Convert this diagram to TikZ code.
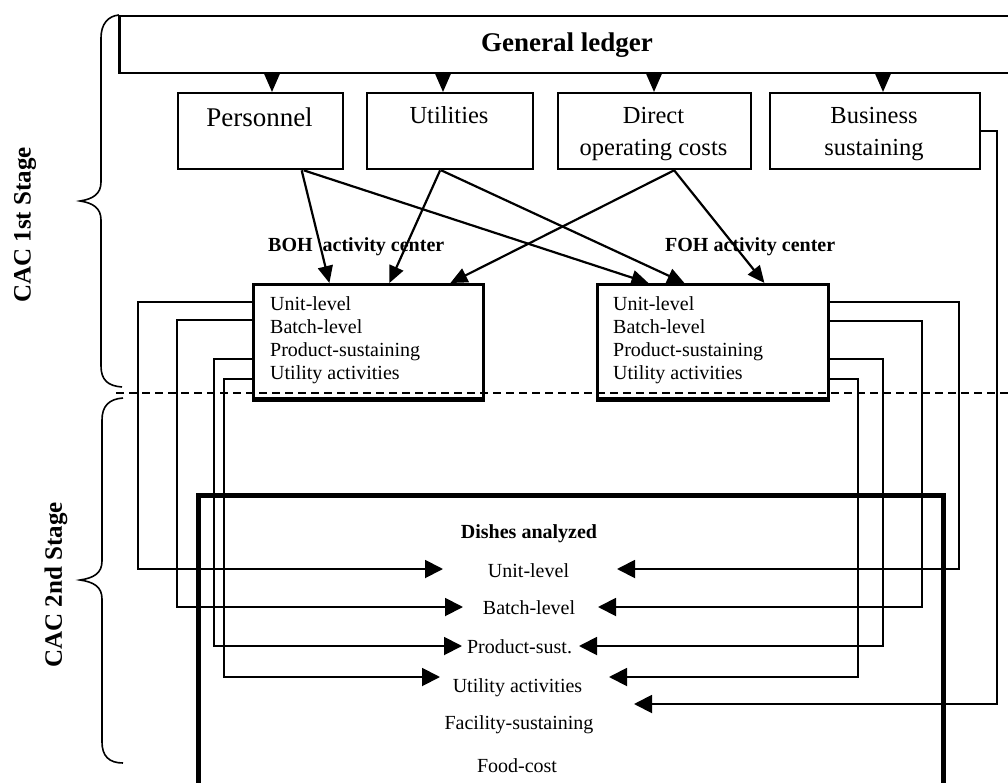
\documentclass[tikz,border=0pt]{standalone}
\usepackage{fontspec}
\setmainfont{Liberation Serif}
\usetikzlibrary{arrows.meta,calc}

\tikzset{
  costbox/.style={draw, line width=2.3pt, rectangle, inner sep=0pt, anchor=north west},
  centerbox/.style={draw, line width=2.8pt, rectangle, inner sep=0pt, anchor=north west},
  gltip/.style={line width=2pt, -{Triangle[length=19pt,width=16pt]}},
  alloc/.style={line width=2.2pt, -{Triangle[length=17pt,width=15pt]}},
  driver/.style={line width=1.9pt, -{Triangle[length=18pt,width=18pt]}},
  brace/.style={line width=1.6pt},
  txt/.style={inner sep=0pt, anchor=base, font=\fontsize{20pt}{24pt}\selectfont},
  listtxt/.style={inner sep=0pt, anchor=base west, font=\fontsize{20pt}{24pt}\selectfont},
  boldtxt/.style={inner sep=0pt, anchor=base west, font=\fontsize{20pt}{24pt}\selectfont\bfseries},
  boxtxt/.style={inner sep=0pt, anchor=base, font=\fontsize{24.5pt}{30pt}\selectfont},
  stagetxt/.style={inner sep=0pt, rotate=90, font=\fontsize{25pt}{30pt}\selectfont\bfseries}
}

\begin{document}
\begin{tikzpicture}[x=1pt, y=-1pt]
\clip (0,0) rectangle (1008,783);

% ---------- general ledger and cost pools ----------
\node[costbox, line width=2.5pt, minimum width=902pt, minimum height=57pt] (gl) at (118,15) {};
\node[inner sep=0pt, anchor=base, font=\fontsize{27pt}{32pt}\selectfont\bfseries] (gltxt) at (567,52) {General ledger};

\node[costbox, minimum width=165pt, minimum height=76pt] (pers) at (177,92) {};
\node[costbox, minimum width=166pt, minimum height=76pt] (util) at (366,92) {};
\node[costbox, minimum width=193pt, minimum height=76pt] (doc)  at (557,92) {};
\node[costbox, minimum width=210pt, minimum height=76pt] (bus)  at (769,92) {};

\node[boxtxt, font=\fontsize{27pt}{32pt}\selectfont] (perstxt) at (259.5,127) {Personnel};
\node[boxtxt] (utiltxt) at (449,124) {Utilities};
\node[boxtxt] (doctxtA) at (653.5,124) {Direct};
\node[boxtxt] (doctxtB) at (653.5,156) {operating costs};
\node[boxtxt] (bustxtA) at (874,124) {Business};
\node[boxtxt] (bustxtB) at (874,156) {sustaining};

% ledger feeds each cost pool
\coordinate (gP) at (272,72);
\coordinate (gU) at (443,72);
\coordinate (gD) at (654,72);
\coordinate (gB) at (883,72);
\draw[gltip] (gP) -- (gP |- pers.north);
\draw[gltip] (gU) -- (gU |- util.north);
\draw[gltip] (gD) -- (gD |- doc.north);
\draw[gltip] (gB) -- (gB |- bus.north);

% ---------- activity centers ----------
\node[centerbox, minimum width=230pt, minimum height=114pt] (boh) at (252,283) {};
\node[centerbox, minimum width=231pt, minimum height=114pt] (foh) at (596,283) {};
\draw[line width=4.5pt] (boh.south west) -- (boh.south east);
\draw[line width=4.5pt] (foh.south west) -- (foh.south east);

\node[boldtxt] (bohlbl) at (268,252) {BOH\hspace{0.5em}activity center};
\node[boldtxt] (fohlbl) at (665,252) {FOH activity center};

\node[listtxt] (bohU) at (270,310) {Unit-level};
\node[listtxt] (bohB) at (270,333) {Batch-level};
\node[listtxt] (bohP) at (270,356) {Product-sustaining};
\node[listtxt] (bohA) at (270,379) {Utility activities};
\node[listtxt] (fohU) at (613,310) {Unit-level};
\node[listtxt] (fohB) at (613,333) {Batch-level};
\node[listtxt] (fohP) at (613,356) {Product-sustaining};
\node[listtxt] (fohA) at (613,379) {Utility activities};

% first-stage allocations
\draw[alloc] ([xshift=41pt]pers.south) -- ([xshift=-39pt]boh.north);
\draw[alloc] ([xshift=43pt]pers.south) -- ([xshift=-64.5pt]foh.north);
\draw[alloc] ([xshift=-10pt]util.south) -- ([xshift=21pt]boh.north);
\draw[alloc] ([xshift=-9pt]util.south) -- ([xshift=-28.5pt]foh.north);
\draw[alloc] ([xshift=19.5pt]doc.south) -- ([xshift=82pt]boh.north);
\draw[alloc] ([xshift=19.5pt]doc.south) -- ([xshift=51.5pt]foh.north);

% ---------- stage division ----------
\draw[line width=1.5pt, dash pattern=on 8pt off 5pt] (116,393) -- (1008,393);

\draw[brace] (119,15) .. controls (108,16) and (101,24) .. (101,38)
  -- (101,182) .. controls (101,194) and (93,199) .. (80,201)
  .. controls (93,203) and (101,208) .. (101,220)
  -- (101,366) .. controls (101,380) and (108,386) .. (122,387);
\draw[brace] (123,398) .. controls (109,399) and (102,406) .. (102,420)
  -- (102,561) .. controls (102,573) and (94,578) .. (80,580)
  .. controls (94,582) and (102,587) .. (102,599)
  -- (102,742) .. controls (102,756) and (109,763) .. (123,763);

\node[stagetxt] (st1) at (25,225) {CAC 1st Stage};
\node[stagetxt] (st2) at (56,585) {CAC 2nd Stage};

% ---------- cost objects ----------
\node[draw, line width=4.5pt, rectangle, inner sep=0pt, anchor=north west,
      minimum width=745pt, minimum height=320pt] (dish) at (196,493) {};

\node[txt, font=\fontsize{20pt}{24pt}\selectfont\bfseries] (dishtxt) at (529,538) {Dishes analyzed};
\node[txt] (dU) at (528.5,577) {Unit-level};
\node[txt] (dB) at (529,614) {Batch-level};
\node[txt] (dP) at (519.5,653) {Product-sust.};
\node[txt] (dA) at (517.5,692) {Utility activities};
\node[txt] (dF) at (519,729) {Facility-sustaining};
\node[txt] (dC) at (517,772) {Food-cost};

% second-stage drivers from BOH
\coordinate (bU) at (252,302);
\coordinate (bB) at (252,320);
\coordinate (bP) at (252,359);
\coordinate (bA) at (252,379);
\coordinate (lU) at (443,569);
\coordinate (lB) at (463,607);
\coordinate (lP) at (462,646);
\coordinate (lA) at (440,677);
\draw[driver] (bU) -| (138,569) -- (lU);
\draw[driver] (bB) -| (177,607) -- (lB);
\draw[driver] (bP) -| (214,646) -- (lP);
\draw[driver] (bA) -| (224,677) -- (lA);

% second-stage drivers from FOH
\coordinate (fU) at (827,302);
\coordinate (fB) at (827,321);
\coordinate (fP) at (827,359);
\coordinate (fA) at (827,379);
\coordinate (rU) at (617,569);
\coordinate (rB) at (598,607);
\coordinate (rP) at (579,646);
\coordinate (rA) at (609,677);
\draw[driver] (fU) -| (959,569) -- (rU);
\draw[driver] (fB) -| (922,607) -- (rB);
\draw[driver] (fP) -| (883,646) -- (rP);
\draw[driver] (fA) -| (858,677) -- (rA);

% business sustaining to facility level
\coordinate (rF) at (634,704);
\draw[driver] (bus.east) -| (997,704) -- (rF);
\end{tikzpicture}
\end{document}
